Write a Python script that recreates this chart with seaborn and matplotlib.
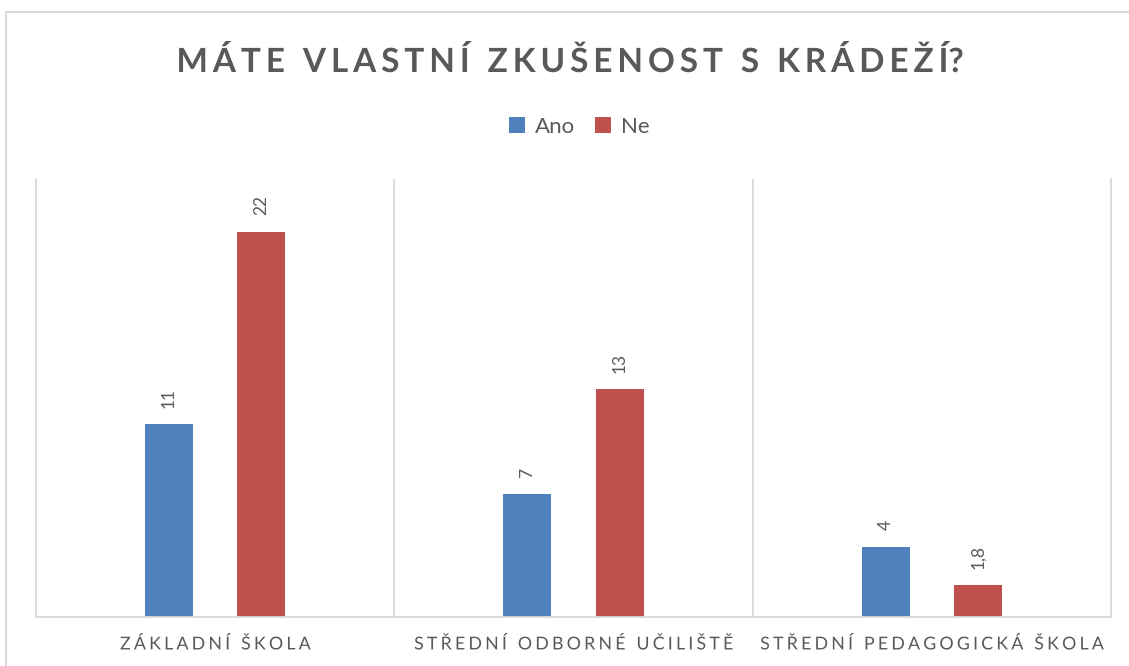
import matplotlib
matplotlib.use("Agg")
import matplotlib.pyplot as plt
import seaborn as sns
import pandas as pd
import numpy as np
from matplotlib.patches import Rectangle, Patch
from matplotlib.patheffects import AbstractPathEffect
from matplotlib.path import Path
from matplotlib.transforms import IdentityTransform

categories = ["ZÁKLADNÍ ŠKOLA", "STŘEDNÍ ODBORNÉ UČILIŠTĚ", "STŘEDNÍ PEDAGOGICKÁ ŠKOLA"]
series_names = ["Ano", "Ne"]
ano_values = [11, 7, 4]
ne_values = [22, 13, 1.8]
value_labels_ano = ["11", "7", "4"]
value_labels_ne = ["22", "13", "1,8"]
title = "MÁTE VLASTNÍ ZKUŠENOST S KRÁDEŽÍ?"

colors = ["#4F81BD", "#C0504D"]
grid_color = "#D9D9D9"
text_gray = "#595959"


class LetterSpacing(AbstractPathEffect):
    """Render horizontal text with extra tracking between glyphs."""

    def __init__(self, spacing_px, word_gap_px=4.0):
        super().__init__()
        self.sp = spacing_px
        self.word_gap = word_gap_px

    def draw_path(self, renderer, gc, tpath, affine, rgbFace=None):
        disp = affine.transform_path(tpath)
        verts = np.asarray(disp.vertices, dtype=float)
        codes = disp.codes
        if codes is None or len(verts) == 0:
            renderer.draw_path(gc, tpath, affine, rgbFace)
            return
        starts = list(np.where(codes == Path.MOVETO)[0]) + [len(codes)]
        contours = [(starts[i], starts[i + 1]) for i in range(len(starts) - 1)]
        clusters = []
        for (a, b) in contours:
            xs = verts[a:b, 0]
            lo, hi = xs.min(), xs.max()
            if clusters and lo < clusters[-1][1] - 0.5 and hi > clusters[-1][0] + 0.5:
                c = clusters[-1]
                c[0] = min(c[0], lo)
                c[1] = max(c[1], hi)
                c[2].append((a, b))
            else:
                clusters.append([lo, hi, [(a, b)]])
        shifts = []
        total = 0.0
        for k, c in enumerate(clusters):
            if k > 0:
                total += self.sp
                gap = c[0] - clusters[k - 1][1]
                if gap > self.word_gap:
                    total += self.sp
            shifts.append(total)
        half = total / 2.0
        new_verts = verts.copy()
        for c, s in zip(clusters, shifts):
            for (a, b) in c[2]:
                new_verts[a:b, 0] += s - half
        renderer.draw_path(gc, Path(new_verts, codes), IdentityTransform(), rgbFace)


df = pd.DataFrame({
    "kategorie": categories * 2,
    "serie": [series_names[0]] * 3 + [series_names[1]] * 3,
    "hodnota": ano_values + ne_values,
    "popisek": value_labels_ano + value_labels_ne,
})

sns.set_theme(style="white")
plt.rcParams["font.family"] = ["Lato", "DejaVu Sans"]

W, H = 1129, 666
fig = plt.figure(figsize=(W / 100, H / 100), dpi=100)
ax = fig.add_axes([36 / W, 1 - 617 / H, (1111 - 36) / W, (617 - 179) / H])

sns.barplot(data=df, x="kategorie", y="hodnota", hue="serie", order=categories,
            hue_order=series_names, palette=colors, width=0.514, ax=ax,
            saturation=1, legend=False, errorbar=None)

bar_w = 0.134
for cont, labels in zip(ax.containers, [value_labels_ano, value_labels_ne]):
    for patch, lab in zip(cont.patches, labels):
        cx = patch.get_x() + patch.get_width() / 2
        patch.set_width(bar_w)
        patch.set_x(cx - bar_w / 2)
        patch.set_linewidth(0)
        ax.annotate(lab, (cx, patch.get_height()), xytext=(0, 12),
                    textcoords="offset points", rotation=90, ha="center",
                    va="bottom", fontsize=12.5, color=text_gray)

ax.set_xlim(-0.5, 2.5)
ax.set_ylim(0, 25)
ax.set_yticks([])
ax.set_xlabel("")
ax.set_ylabel("")
ax.set_xticks(range(3))
ax.set_xticklabels(categories, fontsize=12.8, color=text_gray)
ax.tick_params(axis="x", length=0, pad=14)
for tick in ax.xaxis.get_major_ticks():
    tick.label1.set_path_effects([LetterSpacing(3.2, word_gap_px=3.0)])
for b in [0.5, 1.5]:
    ax.axvline(b, color=grid_color, lw=1.3, zorder=0)
for side in ["left", "right", "bottom"]:
    ax.spines[side].set_color(grid_color)
    ax.spines[side].set_linewidth(1.3)
ax.spines["top"].set_visible(False)

t = fig.text(570 / W, 1 - 72 / H, title, ha="center", va="baseline", fontsize=24,
             fontweight="bold", color=text_gray)
t.set_path_effects([LetterSpacing(4.9, word_gap_px=5.0)])

handles = [Patch(facecolor=c, edgecolor="none") for c in colors]
fig.legend(handles, series_names, loc="center", bbox_to_anchor=(579 / W, 1 - 127 / H),
           ncol=2, frameon=False, fontsize=16, handlelength=0.72, handleheight=0.72,
           handletextpad=0.45, columnspacing=0.9, labelcolor=text_gray)

fig.patches.append(Rectangle((6 / W, -0.1), 1.2, 1 - 12 / H + 0.1,
                             transform=fig.transFigure, fill=False,
                             edgecolor=grid_color, lw=1.5))

fig.savefig("out.png", dpi=100)
